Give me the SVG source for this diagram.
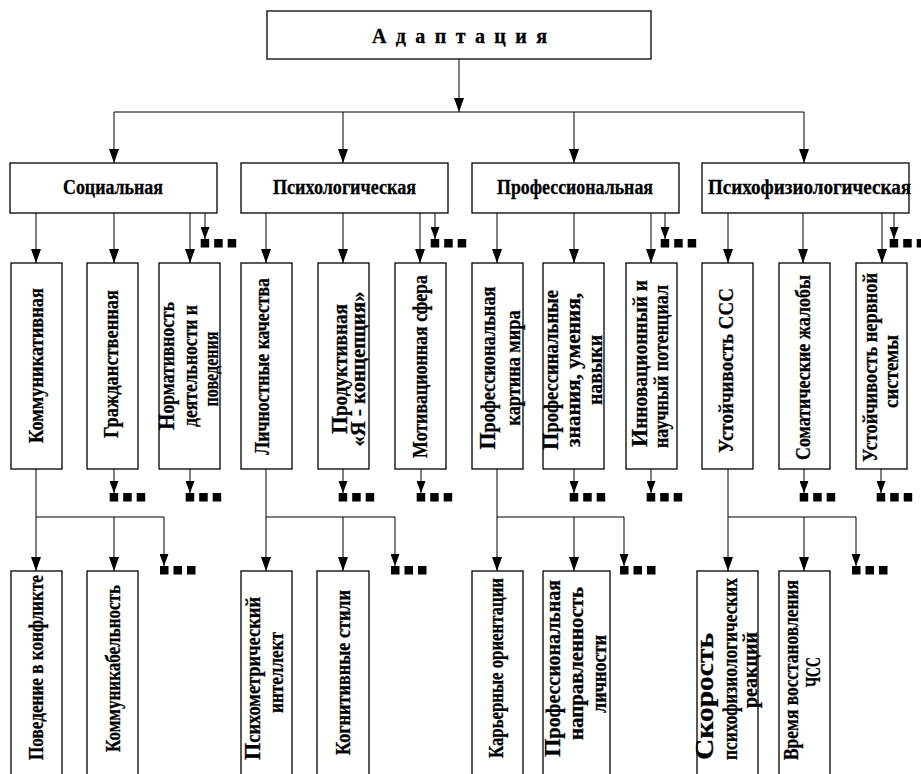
<svg xmlns="http://www.w3.org/2000/svg" xmlns:xlink="http://www.w3.org/1999/xlink" width="921" height="774" viewBox="0 0 921 774">
  <style>
    .box { fill: #ffffff; stroke: #000000; stroke-width: 1.3; }
    .ln { fill: none; stroke: #000000; stroke-width: 1; }
    .t { font-family: "Liberation Serif", "Times New Roman", serif; font-weight: bold; font-size: 20px; fill: #000000; stroke: #000000; stroke-width: 0.3; text-anchor: middle; }
    .title { font-size: 20px; }
    .big { font-size: 24px; }
    .large { font-size: 25px; }
    .dot { fill: #000000; }
  </style>
  <defs>
    <marker id="ah" viewBox="0 0 14 10" refX="14" refY="5" markerWidth="14" markerHeight="10" markerUnits="userSpaceOnUse" orient="auto">
      <path d="M0,0 L14,5 L0,10 z" fill="#000000"/>
    </marker>
    <marker id="ahs" viewBox="0 0 12 9" refX="12" refY="4.5" markerWidth="12" markerHeight="9" markerUnits="userSpaceOnUse" orient="auto">
      <path d="M0,0 L12,4.5 L0,9 z" fill="#000000"/>
    </marker>
    <!-- "more items" mark: three filled squares -->
    <g id="more">
      <rect class="dot" x="0" y="0" width="8.5" height="8.5"/>
      <rect class="dot" x="13.5" y="0" width="8.5" height="8.5"/>
      <rect class="dot" x="27" y="0" width="8.5" height="8.5"/>
    </g>
  </defs>

  <rect width="921" height="774" fill="#ffffff"/>

  <!-- connectors -->
  <g id="connectors" class="ln">
    <line x1="459" y1="59" x2="459" y2="112" marker-end="url(#ah)"/>
    <path d="M114,112 H804"/>
    <line x1="114" y1="112" x2="114" y2="163" marker-end="url(#ah)"/>
    <line x1="343" y1="112" x2="343" y2="163" marker-end="url(#ah)"/>
    <line x1="574" y1="112" x2="574" y2="163" marker-end="url(#ah)"/>
    <line x1="804" y1="112" x2="804" y2="163" marker-end="url(#ah)"/>

    <!-- second level to third level -->
    <line x1="36" y1="213" x2="36" y2="263" marker-end="url(#ah)"/>
    <line x1="114" y1="213" x2="114" y2="263" marker-end="url(#ah)"/>
    <line x1="190" y1="213" x2="190" y2="263" marker-end="url(#ah)"/>
    <line x1="205" y1="213" x2="205" y2="239" marker-end="url(#ahs)"/>
    <line x1="266" y1="213" x2="266" y2="263" marker-end="url(#ah)"/>
    <line x1="343" y1="213" x2="343" y2="263" marker-end="url(#ah)"/>
    <line x1="420" y1="213" x2="420" y2="263" marker-end="url(#ah)"/>
    <line x1="435" y1="213" x2="435" y2="239" marker-end="url(#ahs)"/>
    <line x1="497" y1="213" x2="497" y2="263" marker-end="url(#ah)"/>
    <line x1="574" y1="213" x2="574" y2="263" marker-end="url(#ah)"/>
    <line x1="651" y1="213" x2="651" y2="263" marker-end="url(#ah)"/>
    <line x1="665" y1="213" x2="665" y2="239" marker-end="url(#ahs)"/>
    <line x1="728" y1="213" x2="728" y2="263" marker-end="url(#ah)"/>
    <line x1="803" y1="213" x2="803" y2="263" marker-end="url(#ah)"/>
    <line x1="882" y1="213" x2="882" y2="263" marker-end="url(#ah)"/>
    <line x1="894" y1="213" x2="894" y2="239" marker-end="url(#ahs)"/>

    <!-- third level to "more" marks -->
    <line x1="114" y1="469" x2="114" y2="493" marker-end="url(#ahs)"/>
    <line x1="190" y1="469" x2="190" y2="493" marker-end="url(#ahs)"/>
    <line x1="343" y1="469" x2="343" y2="493" marker-end="url(#ahs)"/>
    <line x1="421" y1="469" x2="421" y2="493" marker-end="url(#ahs)"/>
    <line x1="574" y1="469" x2="574" y2="493" marker-end="url(#ahs)"/>
    <line x1="651" y1="469" x2="651" y2="493" marker-end="url(#ahs)"/>
    <line x1="804" y1="469" x2="804" y2="493" marker-end="url(#ahs)"/>
    <line x1="881" y1="469" x2="881" y2="493" marker-end="url(#ahs)"/>

    <!-- third level to fourth level -->
    <path d="M36,469 V517 H164"/>
    <line x1="36" y1="517" x2="36" y2="571" marker-end="url(#ah)"/>
    <line x1="114" y1="517" x2="114" y2="571" marker-end="url(#ah)"/>
    <line x1="164" y1="517" x2="164" y2="566" marker-end="url(#ahs)"/>
    <path d="M266,469 V517 H395"/>
    <line x1="266" y1="517" x2="266" y2="571" marker-end="url(#ah)"/>
    <line x1="343" y1="517" x2="343" y2="571" marker-end="url(#ah)"/>
    <line x1="395" y1="517" x2="395" y2="566" marker-end="url(#ahs)"/>
    <path d="M497,469 V517 H624"/>
    <line x1="497" y1="517" x2="497" y2="571" marker-end="url(#ah)"/>
    <line x1="574" y1="517" x2="574" y2="571" marker-end="url(#ah)"/>
    <line x1="624" y1="517" x2="624" y2="566" marker-end="url(#ahs)"/>
    <path d="M728,469 V517 H856"/>
    <line x1="728" y1="517" x2="728" y2="571" marker-end="url(#ah)"/>
    <line x1="804" y1="517" x2="804" y2="571" marker-end="url(#ah)"/>
    <line x1="856" y1="517" x2="856" y2="566" marker-end="url(#ahs)"/>
  </g>

  <!-- "more" marks -->
  <g id="more-marks">
    <use xlink:href="#more" x="200.7" y="239"/>
    <use xlink:href="#more" x="430.7" y="239"/>
    <use xlink:href="#more" x="660.7" y="239"/>
    <use xlink:href="#more" x="889.7" y="239"/>
    <use xlink:href="#more" x="109.7" y="493"/>
    <use xlink:href="#more" x="185.7" y="493"/>
    <use xlink:href="#more" x="338.7" y="493"/>
    <use xlink:href="#more" x="416.7" y="493"/>
    <use xlink:href="#more" x="569.7" y="493"/>
    <use xlink:href="#more" x="646.7" y="493"/>
    <use xlink:href="#more" x="799.7" y="493"/>
    <use xlink:href="#more" x="876.7" y="493"/>
    <use xlink:href="#more" x="160" y="566"/>
    <use xlink:href="#more" x="391" y="566"/>
    <use xlink:href="#more" x="620" y="566"/>
    <use xlink:href="#more" x="852" y="566"/>
  </g>

  <!-- root -->
  <g id="adaptation">
    <rect class="box" x="267" y="11" width="384" height="48"/>
    <text class="t title" x="459.5" y="43" textLength="175" lengthAdjust="spacing">А д а п т а ц и я</text>
  </g>

  <!-- second level -->
  <g id="social">
    <rect class="box" x="10" y="163" width="207" height="50"/>
    <text class="t" x="113" y="194" textLength="100" lengthAdjust="spacingAndGlyphs">Социальная</text>
  </g>
  <g id="psychological">
    <rect class="box" x="241" y="163" width="207" height="50"/>
    <text class="t" x="344.5" y="194" textLength="143" lengthAdjust="spacingAndGlyphs">Психологическая</text>
  </g>
  <g id="professional">
    <rect class="box" x="472" y="163" width="207" height="50"/>
    <text class="t" x="575" y="194" textLength="156" lengthAdjust="spacingAndGlyphs">Профессиональная</text>
  </g>
  <g id="psychophysiological">
    <rect class="box" x="702" y="163" width="207" height="50"/>
    <text class="t" x="809.5" y="194" textLength="203" lengthAdjust="spacingAndGlyphs">Психофизиологическая</text>
  </g>

  <!-- third level (text reads bottom to top) -->
  <g id="communicative">
    <rect class="box" x="11" y="263" width="51" height="206"/>
    <g transform="translate(36.5,365.5) rotate(-90)">
      <text class="t" x="0" y="6.5" textLength="155" lengthAdjust="spacingAndGlyphs">Коммуникативная</text>
    </g>
  </g>
  <g id="civic">
    <rect class="box" x="87" y="263" width="51" height="206"/>
    <g transform="translate(112.5,364) rotate(-90)">
      <text class="t" x="0" y="5.5" textLength="148" lengthAdjust="spacingAndGlyphs">Гражданственная</text>
    </g>
  </g>
  <g id="normativity">
    <rect class="box" x="159" y="263" width="61" height="206"/>
    <g transform="translate(189.5,366) rotate(-90)">
      <text class="t" x="0" y="-15.5" textLength="128" lengthAdjust="spacingAndGlyphs"><tspan class="big">Н</tspan>ормативность</text>
      <text class="t" x="0" y="7.5" textLength="122" lengthAdjust="spacingAndGlyphs">деятельности и</text>
      <text class="t" x="-3" y="28.5" textLength="75" lengthAdjust="spacingAndGlyphs">поведения</text>
    </g>
  </g>
  <g id="personal-qualities">
    <rect class="box" x="241" y="263" width="51" height="206"/>
    <g transform="translate(266.5,366.5) rotate(-90)">
      <text class="t" x="0" y="2.5" textLength="177" lengthAdjust="spacingAndGlyphs">Личностные качества</text>
    </g>
  </g>
  <g id="productive">
    <rect class="box" x="318" y="263" width="51" height="206"/>
    <g transform="translate(343.5,369) rotate(-90)">
      <text class="t" x="0" y="3.5" textLength="130" lengthAdjust="spacingAndGlyphs"><tspan class="big">П</tspan>родуктивная</text>
      <text class="t" x="0" y="21.5" textLength="155" lengthAdjust="spacingAndGlyphs">«Я - концепция»</text>
    </g>
  </g>
  <g id="motivation">
    <rect class="box" x="395" y="263" width="51" height="206"/>
    <g transform="translate(420.5,366.5) rotate(-90)">
      <text class="t" x="0" y="6.5" textLength="183" lengthAdjust="spacingAndGlyphs">Мотивационная сфера</text>
    </g>
  </g>
  <g id="world-picture">
    <rect class="box" x="472" y="263" width="51" height="206"/>
    <g transform="translate(497.5,368) rotate(-90)">
      <text class="t" x="0" y="-2.5" textLength="163" lengthAdjust="spacingAndGlyphs"><tspan class="big">П</tspan>рофессиональная</text>
      <text class="t" x="0" y="22" textLength="115" lengthAdjust="spacingAndGlyphs">картина мира</text>
    </g>
  </g>
  <g id="skills">
    <rect class="box" x="543" y="263" width="61" height="206"/>
    <g transform="translate(573.5,370) rotate(-90)">
      <text class="t" x="0" y="-15.5" textLength="160" lengthAdjust="spacingAndGlyphs"><tspan class="big">П</tspan>рофессинальные</text>
      <text class="t" x="0" y="6.5" textLength="154" lengthAdjust="spacingAndGlyphs">знания, умения,</text>
      <text class="t" x="0" y="28.5" textLength="70" lengthAdjust="spacingAndGlyphs">навыки</text>
    </g>
  </g>
  <g id="innovation">
    <rect class="box" x="626" y="263" width="51" height="206"/>
    <g transform="translate(651.5,365) rotate(-90)">
      <text class="t" x="1.5" y="-4.5" textLength="167" lengthAdjust="spacingAndGlyphs"><tspan class="big">И</tspan>нновационный и</text>
      <text class="t" x="-1.5" y="16.5" textLength="163" lengthAdjust="spacingAndGlyphs">научный потенциал</text>
    </g>
  </g>
  <g id="cvs-stability">
    <rect class="box" x="702" y="263" width="51" height="206"/>
    <g transform="translate(727.5,370.5) rotate(-90)">
      <text class="t" x="0" y="5.5" textLength="165" lengthAdjust="spacingAndGlyphs">Устойчивость ССС</text>
    </g>
  </g>
  <g id="somatic">
    <rect class="box" x="779" y="263" width="51" height="206"/>
    <g transform="translate(804.5,367.5) rotate(-90)">
      <text class="t" x="0" y="5.5" textLength="185" lengthAdjust="spacingAndGlyphs">Соматические жалобы</text>
    </g>
  </g>
  <g id="nervous-stability">
    <rect class="box" x="856" y="263" width="51" height="206"/>
    <g transform="translate(881.5,367.5) rotate(-90)">
      <text class="t" x="0" y="-4.5" textLength="189" lengthAdjust="spacingAndGlyphs">Устойчивость нервной</text>
      <text class="t" x="-4" y="16.5" textLength="73" lengthAdjust="spacingAndGlyphs">системы</text>
    </g>
  </g>

  <!-- fourth level -->
  <g id="conflict-behaviour">
    <rect class="box" x="11" y="571" width="51" height="215"/>
    <g transform="translate(36.5,667.5) rotate(-90)">
      <text class="t" x="0" y="6.5" textLength="185" lengthAdjust="spacingAndGlyphs">Поведение в конфликте</text>
    </g>
  </g>
  <g id="sociability">
    <rect class="box" x="87" y="571" width="51" height="215"/>
    <g transform="translate(112.5,668.5) rotate(-90)">
      <text class="t" x="0" y="7.5" textLength="167" lengthAdjust="spacingAndGlyphs">Коммуникабельность</text>
    </g>
  </g>
  <g id="psychometric-intellect">
    <rect class="box" x="241" y="571" width="51" height="215"/>
    <g transform="translate(266.5,675) rotate(-90)">
      <text class="t" x="-3.5" y="-6.5" textLength="163" lengthAdjust="spacingAndGlyphs"><tspan class="big">П</tspan>сихометрический</text>
      <text class="t" x="2.5" y="16.5" textLength="81" lengthAdjust="spacingAndGlyphs">интеллект</text>
    </g>
  </g>
  <g id="cognitive-styles">
    <rect class="box" x="317" y="571" width="52" height="215"/>
    <g transform="translate(343,672.5) rotate(-90)">
      <text class="t" x="0" y="7" textLength="165" lengthAdjust="spacingAndGlyphs">Когнитивные стили</text>
    </g>
  </g>
  <g id="career-orientations">
    <rect class="box" x="472" y="571" width="51" height="215"/>
    <g transform="translate(497.5,668) rotate(-90)">
      <text class="t" x="0" y="5.5" textLength="180" lengthAdjust="spacingAndGlyphs">Карьерные ориентации</text>
    </g>
  </g>
  <g id="professional-orientation">
    <rect class="box" x="543" y="571" width="67" height="215"/>
    <g transform="translate(576.5,668.5) rotate(-90)">
      <text class="t" x="0" y="-16.5" textLength="177" lengthAdjust="spacingAndGlyphs"><tspan class="big">П</tspan>рофессиональная</text>
      <text class="t" x="5" y="6.5" textLength="153" lengthAdjust="spacingAndGlyphs">направленность</text>
      <text class="t" x="-5.5" y="29.5" textLength="78" lengthAdjust="spacingAndGlyphs">личности</text>
    </g>
  </g>
  <g id="reaction-speed">
    <rect class="box" x="697" y="571" width="61" height="215"/>
    <g transform="translate(727.5,669) rotate(-90)">
      <text class="t large" x="-27.5" y="-14.5" textLength="127" lengthAdjust="spacingAndGlyphs">Скорость</text>
      <text class="t" x="0" y="9.5" textLength="182" lengthAdjust="spacingAndGlyphs">психофизиологических</text>
      <text class="t" x="-1" y="29.5" textLength="76" lengthAdjust="spacingAndGlyphs">реакций</text>
    </g>
  </g>
  <g id="hr-recovery">
    <rect class="box" x="779" y="571" width="51" height="215"/>
    <g transform="translate(804.5,670) rotate(-90)">
      <text class="t" x="0" y="-6.5" textLength="180" lengthAdjust="spacingAndGlyphs">Время восстановления</text>
      <text class="t" x="-2" y="15.5" textLength="30" lengthAdjust="spacingAndGlyphs">ЧСС</text>
    </g>
  </g>
</svg>
